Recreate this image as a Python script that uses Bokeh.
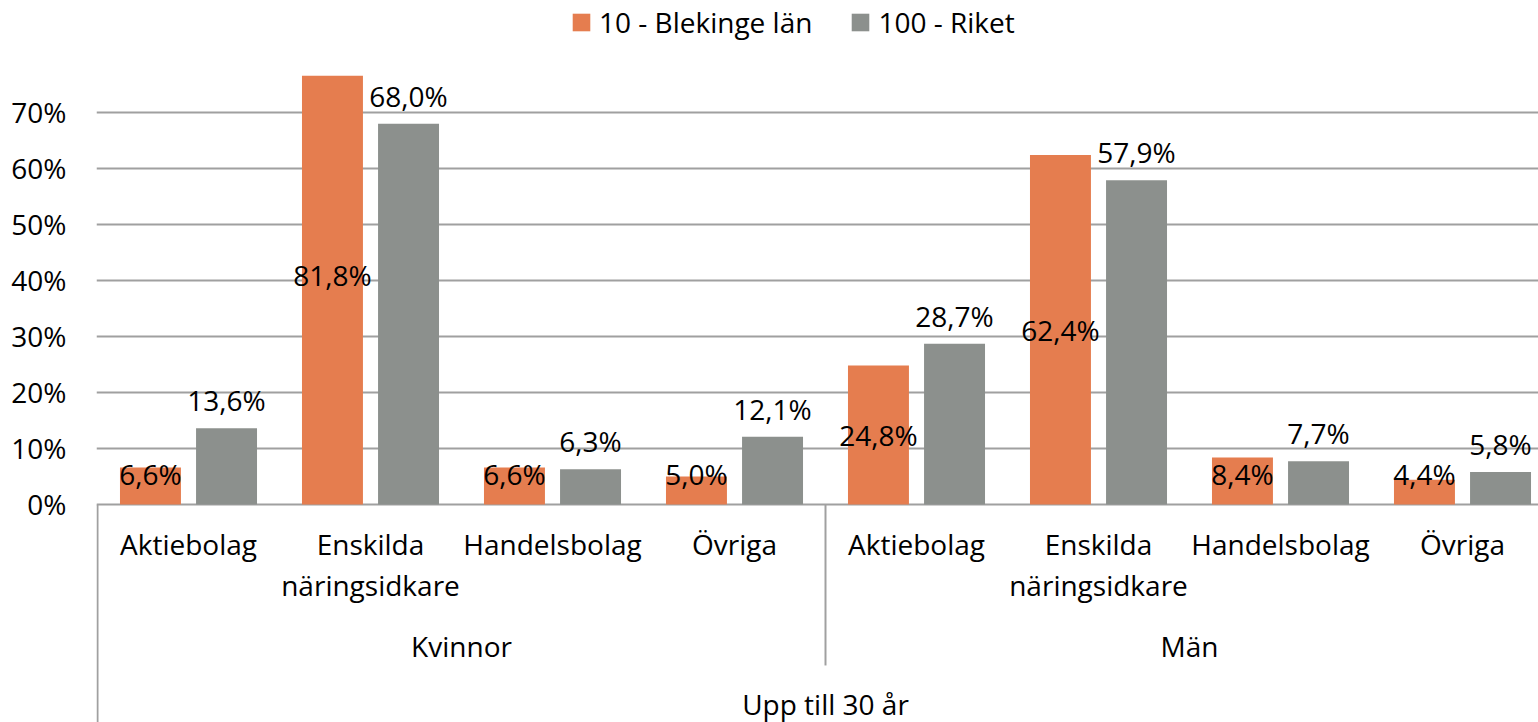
from bokeh.plotting import figure
from bokeh.layouts import column
from bokeh.models import Range1d, FixedTicker, PrintfTickFormatter, Legend, LegendItem
from bokeh.core.properties import value
from bokeh.embed import file_html
from bokeh.resources import INLINE

# ---------------- data ----------------
top_label = "Upp till 30 år"
groups = ["Kvinnor", "Män"]
categories = ["Aktiebolag", "Enskilda näringsidkare", "Handelsbolag", "Övriga"]
series_names = ["10 - Blekinge län", "100 - Riket"]
blekinge = [6.6, 81.8, 6.6, 5.0, 24.8, 62.4, 8.4, 4.4]
riket = [13.6, 68.0, 6.3, 12.1, 28.7, 57.9, 7.7, 5.8]
y_ticks = [0, 10, 20, 30, 40, 50, 60, 70]

# ---------------- style ----------------
ORANGE = "#E57D4F"
GREY = "#8C908D"
LINE = "#A0A0A0"
FONT = "Open Sans"
FS = "28px"
W = 1538
LEG_H = 75
H = 722 - LEG_H
LEFT = 96
PX_X = 182.0          # px per category
PX_Y = 5.6            # px per percent
Y_MAX = 76.6
BAR_W = 0.335
OFF = 0.209

# ---------------- legend strip ----------------
lg = figure(width=W, height=LEG_H, output_backend="svg", toolbar_location=None,
            x_axis_type=None, y_axis_type=None, x_range=Range1d(0, 1), y_range=Range1d(0, 1),
            min_border=0)
lg.outline_line_color = None
lg.grid.visible = False
# legend proxies (outside the visible range)
d1 = lg.vbar(x=[-1], top=[0], width=0.1, fill_color=ORANGE, line_color=None)
d2 = lg.vbar(x=[-1], top=[0], width=0.1, fill_color=GREY, line_color=None)
legend = Legend(items=[LegendItem(label=series_names[0], renderers=[d1]),
                       LegendItem(label=series_names[1], renderers=[d2])],
                orientation="horizontal", location=(474, 34))
legend.border_line_color = None
legend.background_fill_alpha = 0
legend.padding = 0
legend.margin = 0
legend.spacing = 37
legend.label_standoff = 7
legend.glyph_width = 22
legend.glyph_height = 22
legend.label_height = 30
legend.label_text_font = FONT
legend.label_text_font_size = FS
legend.label_text_color = "black"
lg.add_layout(legend)

# ---------------- main chart ----------------
frame_w = W - LEFT
y_min = Y_MAX - H / PX_Y
x_min = -1 / PX_X

p = figure(width=W, height=H, output_backend="svg", toolbar_location=None,
           x_range=Range1d(x_min, x_min + frame_w / PX_X),
           y_range=Range1d(y_min, Y_MAX), x_axis_type=None,
           min_border_left=LEFT, min_border_top=0, min_border_right=0,
           min_border_bottom=0)
p.outline_line_color = None
p.xgrid.visible = False

ax = p.yaxis[0]
ax.ticker = FixedTicker(ticks=y_ticks)
ax.formatter = PrintfTickFormatter(format="%d%%")
ax.axis_line_color = None
ax.major_tick_line_color = None
ax.minor_tick_line_color = None
ax.major_tick_in = 0
ax.major_tick_out = 0
ax.major_label_standoff = 30
ax.major_label_text_font = FONT
ax.major_label_text_font_size = FS
ax.major_label_text_color = "black"
p.ygrid.grid_line_color = LINE
p.ygrid.grid_line_width = 2

n = len(blekinge)
ncat = len(categories)
centers = [i + 0.5 for i in range(n)]
xo = [c - OFF for c in centers]
xg = [c + OFF for c in centers]

p.vbar(x=xo, top=blekinge, bottom=0, width=BAR_W, fill_color=ORANGE, line_color=None)
p.vbar(x=xg, top=riket, bottom=0, width=BAR_W, fill_color=GREY, line_color=None)

def fmt(v):
    return f"{v:.1f}".replace(".", ",") + "%"

LABEL_MIN = 5.4
p.text(x=xo, y=[max(v / 2, LABEL_MIN) for v in blekinge], text=[fmt(v) for v in blekinge],
       text_align="center", text_baseline="middle", text_font=value(FONT),
       text_font_size=FS, text_color="black")
p.text(x=xg, y=riket, y_offset=-28, text=[fmt(v) for v in riket],
       text_align="center", text_baseline="middle", text_font=value(FONT),
       text_font_size=FS, text_color="black")

# category axis (three levels)
cat_labels = categories * len(groups)
line1 = [c.split(" ", 1)[0] for c in cat_labels]
line2 = [c.split(" ", 1)[1] if " " in c else "" for c in cat_labels]
ROW1, ROW2, ROW_G, ROW_T = -7.0, -14.3, -25.3, -35.6
p.text(x=centers, y=[ROW1] * n, text=line1, text_align="center", text_baseline="middle",
       text_font=value(FONT), text_font_size=FS, text_color="black")
p.text(x=centers, y=[ROW2] * n, text=line2, text_align="center", text_baseline="middle",
       text_font=value(FONT), text_font_size=FS, text_color="black")
gx = [ncat * g + ncat / 2 for g in range(len(groups))]
p.text(x=gx, y=[ROW_G] * len(groups), text=groups, text_align="center", text_baseline="middle",
       text_font=value(FONT), text_font_size=FS, text_color="black")
p.text(x=[n / 2], y=[ROW_T], text=[top_label], text_align="center", text_baseline="middle",
       text_font=value(FONT), text_font_size=FS, text_color="black")

sep_x = [0, ncat, n]
sep_bottom = [y_min, -28.75, y_min]
p.segment(x0=sep_x, y0=[0] * 3, x1=sep_x, y1=sep_bottom, line_color=LINE, line_width=2)

layout = column(lg, p, spacing=0)
open("out.html", "w").write(file_html(layout, INLINE))
